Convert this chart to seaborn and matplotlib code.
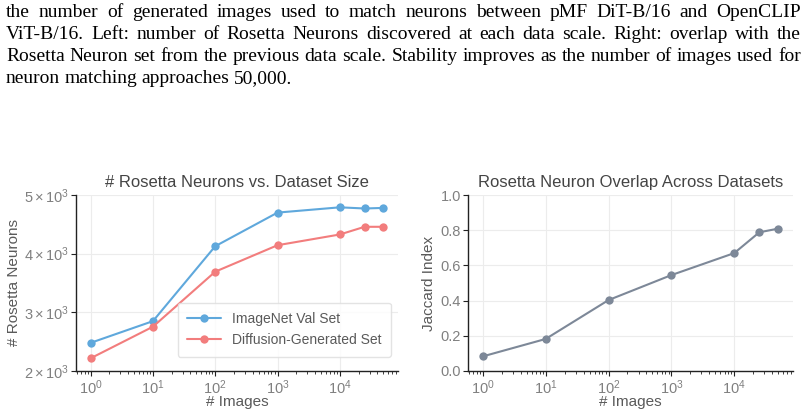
import numpy as np
import pandas as pd
import seaborn as sns
import matplotlib.pyplot as plt
from matplotlib.ticker import FuncFormatter, LogLocator

# Datos
n_images = [1, 10, 100, 1000, 10000, 25000, 50000]
imagenet_val = [2480, 2850, 4127, 4700, 4790, 4770, 4780]
diffusion_gen = [2217, 2755, 3693, 4144, 4327, 4458, 4458]
jaccard = [0.083, 0.182, 0.403, 0.545, 0.670, 0.788, 0.809]

series_names = ["ImageNet Val Set", "Diffusion-Generated Set"]
series_colors = ["#5fa8dc", "#f27d7d"]
overlap_color = "#7d8898"

caption_lines = [
    "the number of generated images used to match neurons between pMF DiT-B/16 and OpenCLIP",
    "ViT-B/16. Left: number of Rosetta Neurons discovered at each data scale. Right: overlap with the",
    "Rosetta Neuron set from the previous data scale. Stability improves as the number of images used for",
    "neuron matching approaches 50,000.",
]

sns.set_theme(style="ticks")
plt.rcParams["font.family"] = ["Liberation Sans", "DejaVu Sans"]
plt.rcParams["mathtext.fontset"] = "custom"
plt.rcParams["mathtext.rm"] = "Liberation Sans"
plt.rcParams["mathtext.it"] = "Liberation Sans:italic"

df_left = pd.DataFrame({
    "images": n_images * 2,
    "neurons": imagenet_val + diffusion_gen,
    "set": [series_names[0]] * len(n_images) + [series_names[1]] * len(n_images),
})
df_right = pd.DataFrame({"images": n_images, "jaccard": jaccard})

fig = plt.figure(figsize=(8.06, 4.13), dpi=100)
ax1 = fig.add_axes([76 / 806, 1 - 371 / 413, 322 / 806, 176 / 413])
ax2 = fig.add_axes([468 / 806, 1 - 371 / 413, 325 / 806, 176 / 413])

sns.lineplot(data=df_left, x="images", y="neurons", hue="set", palette=series_colors,
             marker="o", markersize=6, markeredgewidth=0, linewidth=1.5, ax=ax1)
sns.lineplot(data=df_right, x="images", y="jaccard", color=overlap_color,
             marker="o", markersize=6, markeredgewidth=0, linewidth=1.5, ax=ax2)

tick_col = "#808080"
lab_col = "#5a5a5a"
for ax in (ax1, ax2):
    ax.set_xscale("log")
    ax.xaxis.set_major_locator(LogLocator(base=10, numticks=10))
    ax.xaxis.set_minor_locator(LogLocator(base=10, subs=np.arange(2, 10), numticks=10))
    ax.grid(True, which="major", color="#ececec", linewidth=0.8)
    ax.set_axisbelow(True)
    sns.despine(ax=ax)
    for s in ("left", "bottom"):
        ax.spines[s].set_color("#222222")
        ax.spines[s].set_linewidth(1.0)
    ax.tick_params(axis="both", which="major", length=3.5, width=0.8, color="#222222",
                   labelsize=10.5, labelcolor=tick_col, pad=1.5)
    ax.tick_params(axis="x", which="minor", length=2, width=0.6, color="#222222")
    ax.set_xlabel("# Images", fontsize=11, color=lab_col, labelpad=-1)

ax1.set_ylim(2000, 5000)
ax1.set_yticks([2000, 3000, 4000, 5000])
ax1.yaxis.set_major_formatter(FuncFormatter(lambda v, p: r"$%d\times10^{3}$" % int(round(v / 1000))))
ax1.set_ylabel("# Rosetta Neurons", fontsize=11, color=lab_col, labelpad=2)
ax1.set_title("# Rosetta Neurons vs. Dataset Size", fontsize=12, color="#444444", pad=6)
leg = ax1.legend(loc="lower right", fontsize=10, frameon=True, borderpad=0.7,
                 handlelength=2.4, handletextpad=0.8, labelspacing=0.5,
                 bbox_to_anchor=(1.0, 0.04))
leg.get_frame().set_edgecolor("#dddddd")
for t in leg.get_texts():
    t.set_color("#5a5a5a")

ax2.set_ylim(0, 1.0)
ax2.set_yticks([0, 0.2, 0.4, 0.6, 0.8, 1.0])
ax2.yaxis.set_major_formatter(FuncFormatter(lambda v, p: "%.1f" % v))
ax2.set_ylabel("Jaccard Index", fontsize=11, color=lab_col, labelpad=3)
ax2.set_title("Rosetta Neuron Overlap Across Datasets", fontsize=12, color="#444444", pad=6)

# Texto del pie justificado
fig.canvas.draw()
renderer = fig.canvas.get_renderer()
x_left, x_right = 6, 801
for i, line in enumerate(caption_lines):
    y = 1 - (17 + 22 * i) / 413
    words = line.split(" ")
    texts = [fig.text(0, y, w, fontsize=14, family="Liberation Serif", color="black")
             for w in words]
    widths = [t.get_window_extent(renderer).width for t in texts]
    if i < len(caption_lines) - 1:
        gap = (x_right - x_left - sum(widths)) / (len(words) - 1)
    else:
        gap = texts[0].get_window_extent(renderer).height * 0.25
    x = x_left
    for t, w in zip(texts, widths):
        t.set_x(x / 806)
        x += w + gap

fig.savefig("out.png", dpi=100)
